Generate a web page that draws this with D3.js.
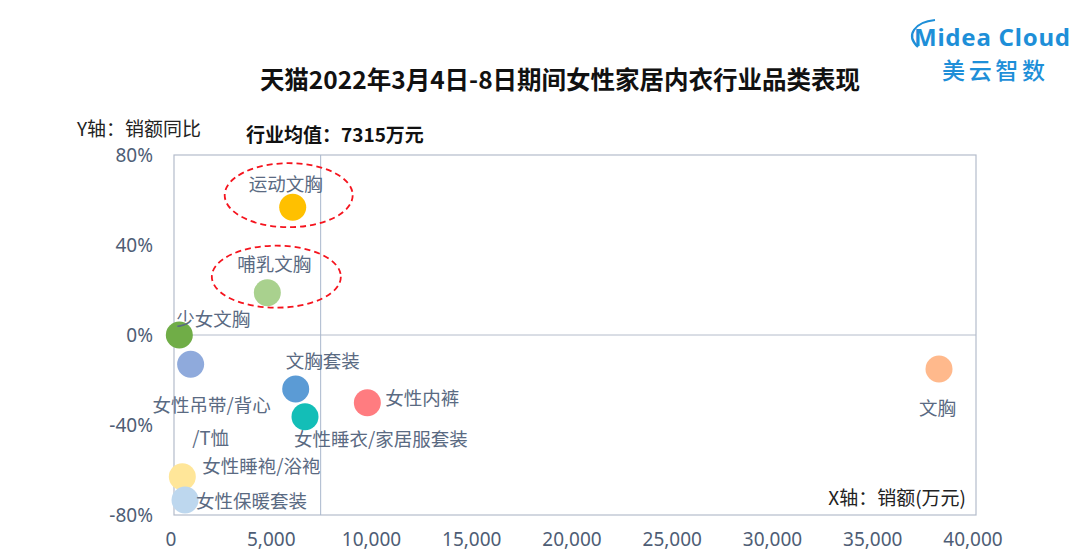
<!DOCTYPE html>
<html><head><meta charset="utf-8">
<script src="https://cdn.jsdelivr.net/npm/d3@7"></script>
<style>
html,body{margin:0;padding:0;background:#fff;}
svg{display:block;font-family:"Noto Sans CJK SC","Noto Sans",sans-serif;}
</style></head>
<body><svg id="c" width="1080" height="557"></svg>
<script>
const categories = ["运动文胸","哺乳文胸","少女文胸","女性吊带/背心/T恤","文胸套装","女性睡衣/家居服套装","女性内裤","女性睡袍/浴袍","女性保暖套装","文胸"];
const sales = [5920, 4655, 265, 830, 6070, 6534, 9643, 415, 550, 38155];
const growth = [0.568, 0.188, 0.0, -0.13, -0.24, -0.363, -0.301, -0.63, -0.733, -0.151];
const colors = ["#FFC000","#A9D18E","#70AD47","#8FAADC","#5B9BD5","#13BEB7","#FF7C80","#FFE699","#BDD7EE","#FFB98C"];
const xTicks = [0,5000,10000,15000,20000,25000,30000,35000,40000];
const yTicks = [0.8,0.4,0,-0.4,-0.8];
const average = 7315;
const highlighted = ["运动文胸","哺乳文胸"];

const svg = d3.select("#c");
const x = d3.scaleLinear().domain([0,40000]).range([174,976]);
const y = d3.scaleLinear().domain([-0.8,0.8]).range([515,155]);
const tickColor = "#4E5D75";
const labelColor = "#5A6A82";

// plot frame
svg.append("rect").attr("x",x(0)).attr("y",y(0.8)).attr("width",x(40000)-x(0)).attr("height",y(-0.8)-y(0.8))
  .attr("fill","none").attr("stroke","#B4BCCB").attr("stroke-width",1.2);
// zero line
svg.append("line").attr("x1",x(0)).attr("x2",x(40000)).attr("y1",y(0)).attr("y2",y(0)).attr("stroke","#B4BCCB").attr("stroke-width",1);
// average line
svg.append("line").attr("x1",x(average)).attr("x2",x(average)).attr("y1",y(0.8)).attr("y2",y(-0.8)).attr("stroke","#A9B7CC").attr("stroke-width",1);

// axes
const xAxis = svg.append("g").attr("transform",`translate(0,${y(-0.8)})`)
  .call(d3.axisBottom(x).tickValues(xTicks).tickSize(0).tickPadding(18).tickFormat(d3.format(",")));
xAxis.select(".domain").remove();
xAxis.selectAll("text").attr("fill",tickColor).attr("font-size",19).attr("dx",-3.5).attr("font-family","Noto Sans, sans-serif");
const pct = d => Math.round(d*100) + "%";
const yAxis = svg.append("g").attr("transform",`translate(${x(0)},0)`)
  .call(d3.axisLeft(y).tickValues(yTicks).tickSize(0).tickPadding(21).tickFormat(pct));
yAxis.select(".domain").remove();
yAxis.selectAll("text").attr("fill",tickColor).attr("font-size",19).attr("font-family","Noto Sans, sans-serif");

// points
const pts = categories.map((c,i)=>({c, s:sales[i], g:growth[i], col:colors[i]}));
svg.append("g").selectAll("circle").data(pts).join("circle")
  .attr("cx",d=>x(d.s)).attr("cy",d=>y(d.g)).attr("r",13.5).attr("fill",d=>d.col);

// labels (offsets relative to point)
const labelOffsets = {
  "运动文胸":[-7,-24,"middle"],
  "哺乳文胸":[7,-30,"middle"],
  "少女文胸":[34,-17,"middle"],
  "女性吊带/背心/T恤":null,
  "文胸套装":[27,-29,"middle"],
  "女性睡衣/家居服套装":[76,21,"middle"],
  "女性内裤":[18,-6,"start"],
  "女性睡袍/浴袍":[20,-12,"start"],
  "女性保暖套装":[11,0,"start"],
  "文胸":[-1.5,38,"middle"]
};
const lg = svg.append("g").attr("fill",labelColor).attr("font-size",18.5);
pts.forEach(d=>{
  const o = labelOffsets[d.c];
  if(o){
    lg.append("text").attr("x",x(d.s)+o[0]).attr("y",y(d.g)+o[1]).attr("text-anchor",o[2])
      .attr("dominant-baseline","central").text(d.c);
  } else {
    const parts = ["女性吊带/背心","/T恤"];
    lg.append("text").attr("x",x(d.s)+21).attr("y",y(d.g)+40).attr("text-anchor","middle")
      .attr("dominant-baseline","central").text(parts[0]);
    lg.append("text").attr("x",x(d.s)+20).attr("y",y(d.g)+73).attr("text-anchor","middle")
      .attr("dominant-baseline","central").text(parts[1]);
  }
});

// highlight ellipses
const ell = {"运动文胸":[-4,-12,64,32],"哺乳文胸":[9,-16,64.5,31]};
highlighted.forEach(c=>{
  const d = pts.find(p=>p.c===c); const e = ell[c];
  svg.append("ellipse").attr("cx",x(d.s)+e[0]).attr("cy",y(d.g)+e[1]).attr("rx",e[2]).attr("ry",e[3])
    .attr("fill","none").attr("stroke","#F5141E").attr("stroke-width",1.8).attr("stroke-dasharray","6,4");
});

// titles
svg.append("text").attr("x",560).attr("y",78).attr("text-anchor","middle").attr("dominant-baseline","central")
  .attr("font-size",24.5).attr("font-weight","bold").attr("fill","#111").text("天猫2022年3月4日-8日期间女性家居内衣行业品类表现");
svg.append("text").attr("x",246).attr("y",133).attr("dominant-baseline","central")
  .attr("font-size",19).attr("font-weight","bold").attr("fill","#111").text("行业均值："+average+"万元");
svg.append("text").attr("x",77).attr("y",127).attr("dominant-baseline","central")
  .attr("font-size",19).attr("fill","#222").text("Y轴：销额同比");
svg.append("text").attr("x",966).attr("y",496).attr("text-anchor","end").attr("dominant-baseline","central")
  .attr("font-size",19).attr("fill","#222").text("X轴：销额(万元)");

// logo
const blue = "#1E8FD8";
svg.append("path").attr("d","M918,47 C905,35 915,22 935,20").attr("fill","none").attr("stroke",blue).attr("stroke-width",2.2);
svg.append("text").attr("x",914).attr("y",36).attr("dominant-baseline","central").attr("font-size",24)
  .attr("font-weight","bold").attr("fill",blue).attr("font-family","Noto Sans, sans-serif").attr("textLength",156).text("Midea Cloud");
svg.append("text").attr("x",942).attr("y",69).attr("dominant-baseline","central").attr("font-size",23)
  .attr("font-weight",500).attr("fill",blue).attr("textLength",103).text("美云智数");
</script></body></html>
